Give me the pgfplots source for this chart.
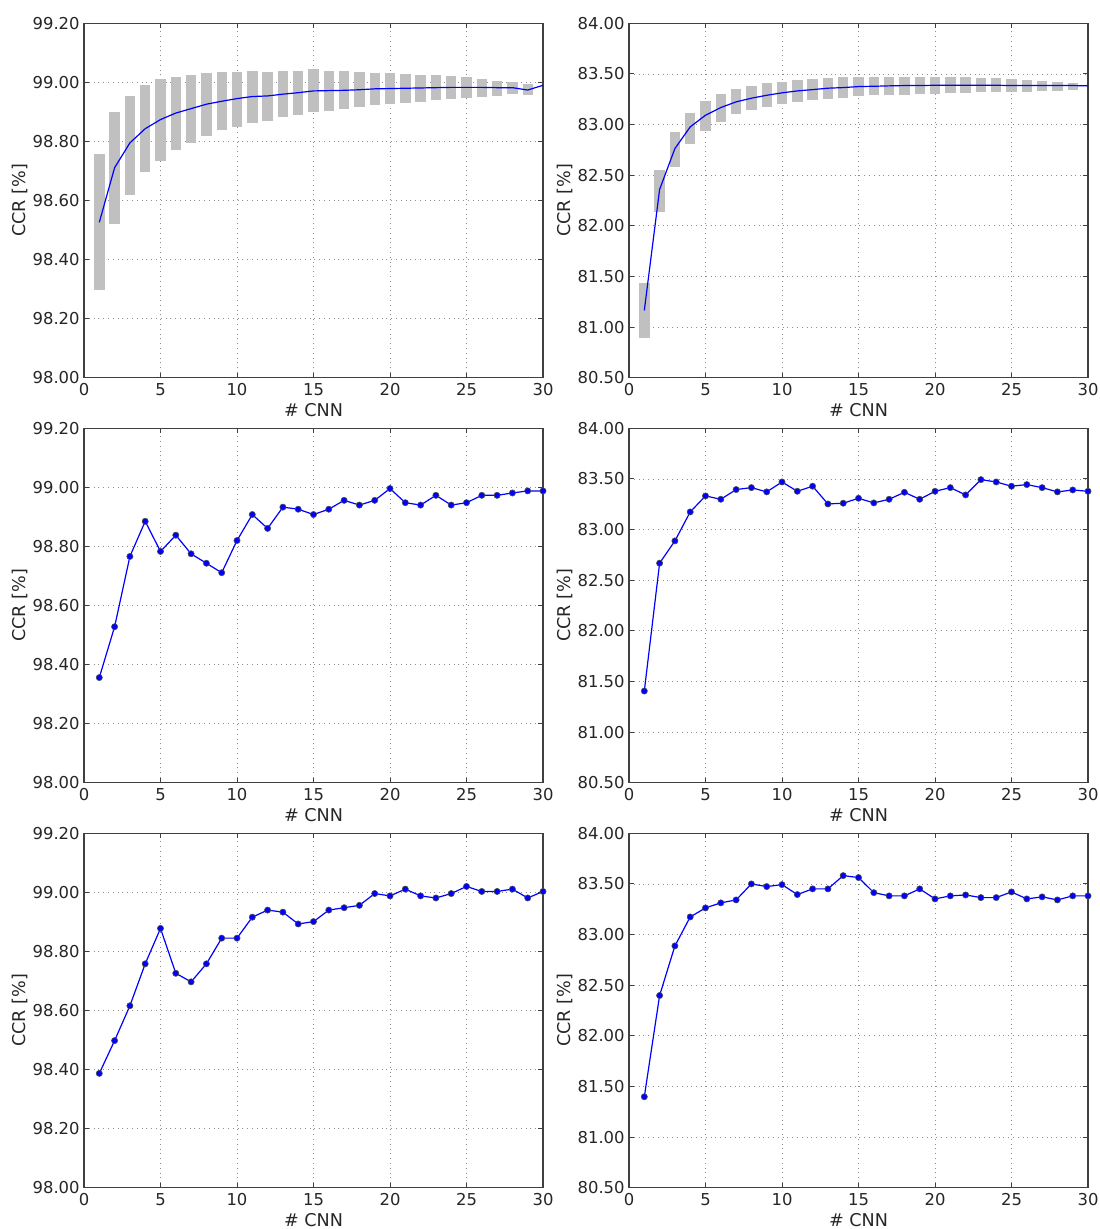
\documentclass[border=0pt]{standalone}
\usepackage{fontspec}
\setmainfont{DejaVu Sans}
\usepackage{pgfplots}
\usepackage{pgfplotstable}
\pgfplotsset{compat=1.18}
\definecolor{barg}{RGB}{192,192,192}

% top-left: x, lo, hi
\pgfplotstableread{
x lo hi
1 98.296 98.757
2 98.521 98.899
3 98.620 98.955
4 98.696 98.990
5 98.735 99.012
6 98.770 99.019
7 98.794 99.024
8 98.817 99.030
9 98.837 99.034
10 98.849 99.036
11 98.862 99.038
12 98.869 99.036
13 98.882 99.038
14 98.890 99.040
15 98.900 99.044
16 98.904 99.038
17 98.910 99.038
18 98.917 99.036
19 98.922 99.033
20 98.927 99.030
21 98.931 99.028
22 98.935 99.025
23 98.939 99.025
24 98.944 99.020
25 98.947 99.018
26 98.952 99.012
27 98.955 99.004
28 98.962 99.002
29 98.956 98.993
}\tableA
\pgfplotstableread{
x m
1 98.526
2 98.711
3 98.795
4 98.843
5 98.874
6 98.896
7 98.911
8 98.926
9 98.936
10 98.945
11 98.952
12 98.954
13 98.960
14 98.965
15 98.971
16 98.972
17 98.973
18 98.975
19 98.978
20 98.979
21 98.980
22 98.981
23 98.982
24 98.983
25 98.983
26 98.983
27 98.982
28 98.982
29 98.974
30 98.990
}\lineA

% top-right
\pgfplotstableread{
x lo hi
1 80.895 81.437
2 82.141 82.556
3 82.576 82.928
4 82.803 83.118
5 82.941 83.234
6 83.026 83.299
7 83.102 83.349
8 83.145 83.378
9 83.174 83.408
10 83.204 83.424
11 83.227 83.438
12 83.240 83.451
13 83.257 83.457
14 83.263 83.474
15 83.280 83.474
16 83.293 83.474
17 83.293 83.474
18 83.293 83.474
19 83.306 83.467
20 83.306 83.467
21 83.312 83.467
22 83.312 83.467
23 83.319 83.457
24 83.319 83.457
25 83.319 83.451
26 83.322 83.441
27 83.329 83.434
28 83.336 83.421
29 83.342 83.414
}\tableB
\pgfplotstableread{
x m
1 81.164
2 82.359
3 82.763
4 82.977
5 83.092
6 83.168
7 83.224
8 83.260
9 83.289
10 83.313
11 83.332
12 83.345
13 83.359
14 83.365
15 83.375
16 83.378
17 83.382
18 83.385
19 83.385
20 83.388
21 83.388
22 83.388
23 83.388
24 83.388
25 83.385
26 83.385
27 83.385
28 83.385
29 83.385
30 83.382
}\lineB

% middle-left
\pgfplotstableread{
x y
1 98.356
2 98.528
3 98.766
4 98.885
5 98.783
6 98.838
7 98.775
8 98.743
9 98.711
10 98.820
11 98.908
12 98.861
13 98.933
14 98.926
15 98.908
16 98.926
17 98.956
18 98.940
19 98.956
20 98.996
21 98.948
22 98.940
23 98.973
24 98.940
25 98.948
26 98.973
27 98.973
28 98.981
29 98.988
30 98.988
}\tableC

% middle-right
\pgfplotstableread{
x y
1 81.405
2 82.668
3 82.888
4 83.174
5 83.332
6 83.299
7 83.395
8 83.414
9 83.372
10 83.470
11 83.378
12 83.428
13 83.253
14 83.260
15 83.309
16 83.263
17 83.299
18 83.368
19 83.299
20 83.378
21 83.414
22 83.342
23 83.493
24 83.470
25 83.428
26 83.444
27 83.414
28 83.372
29 83.391
30 83.378
}\tableD

% bottom-left
\pgfplotstableread{
x y
1 98.387
2 98.498
3 98.616
4 98.758
5 98.878
6 98.726
7 98.697
8 98.758
9 98.845
10 98.845
11 98.916
12 98.940
13 98.933
14 98.893
15 98.901
16 98.940
17 98.948
18 98.956
19 98.996
20 98.988
21 99.011
22 98.988
23 98.981
24 98.996
25 99.020
26 99.003
27 99.003
28 99.011
29 98.981
30 99.003
}\tableE

% bottom-right
\pgfplotstableread{
x y
1 81.398
2 82.398
3 82.888
4 83.174
5 83.263
6 83.313
7 83.342
8 83.500
9 83.474
10 83.493
11 83.395
12 83.451
13 83.451
14 83.582
15 83.563
16 83.414
17 83.382
18 83.382
19 83.451
20 83.352
21 83.382
22 83.391
23 83.365
24 83.365
25 83.421
26 83.352
27 83.372
28 83.342
29 83.382
30 83.382
}\tableF

\pgfplotsset{
  panel/.style={
    scale only axis, width=229.5pt, height=177.2pt,
    xmin=0, xmax=30, xtick={0,5,10,15,20,25,30},
    anchor=south west,
    /pgf/number format/assume math mode=true,
    grid=major,
    grid style={dotted, line width=0.4pt, color=black!45},
    axis line style={line width=0.6pt, color=black!75},
    tick align=inside, major tick length=2.5pt,
    tick style={line width=0.5pt, color=black!75},
    every tick label/.append style={font=\fontsize{8.2}{9}\selectfont, inner sep=0pt, text=black!85},
    xticklabel style={yshift=-2.6pt},
    yticklabel style={xshift=-2pt, /pgf/number format/fixed, /pgf/number format/fixed zerofill, /pgf/number format/precision=2},
    xlabel={\# CNN}, ylabel={CCR [\%]},
    label style={font=\fontsize{8.8}{10}\selectfont, text=black!85},
    xlabel style={at={(axis description cs:0.5,-0.0903)}, anchor=center},
    ylabel style={at={(axis description cs:-0.1394,0.5)}, anchor=center},
  },
  leftp/.style={ymin=98, ymax=99.2, ytick={98,98.2,98.4,98.6,98.8,99,99.2}},
  rightp/.style={ymin=80.5, ymax=84, ytick={80.5,81,81.5,82,82.5,83,83.5,84}},
  boxes/.style={draw=none, mark=none, forget plot,
    error bars/.cd, y dir=plus, y explicit, error mark=none,
    error bar style={draw=barg, solid, line width=5.2pt, line cap=butt}},
  meanline/.style={blue, line width=0.6pt, mark=none},
  dotline/.style={blue, line width=0.6pt, mark=*, mark size=1.55pt,
    mark options={fill=blue, draw=black!70, line width=0.3pt}},
}

\begin{document}
\begin{tikzpicture}
% top row
\begin{axis}[panel, leftp, at={(42pt,425.65pt)}]
  \addplot[boxes] table[x=x, y=lo, y error expr=\thisrow{hi}-\thisrow{lo}] {\tableA};
  \addplot[meanline] table[x=x, y=m] {\lineA};
\end{axis}
\begin{axis}[panel, rightp, at={(314.5pt,425.65pt)}]
  \addplot[boxes] table[x=x, y=lo, y error expr=\thisrow{hi}-\thisrow{lo}] {\tableB};
  \addplot[meanline] table[x=x, y=m] {\lineB};
\end{axis}
% middle row
\begin{axis}[panel, leftp, at={(42pt,223.15pt)}]
  \addplot[dotline] table[x=x, y=y] {\tableC};
\end{axis}
\begin{axis}[panel, rightp, at={(314.5pt,223.15pt)}]
  \addplot[dotline] table[x=x, y=y] {\tableD};
\end{axis}
% bottom row
\begin{axis}[panel, leftp, at={(42pt,20.65pt)}]
  \addplot[dotline] table[x=x, y=y] {\tableE};
\end{axis}
\begin{axis}[panel, rightp, at={(314.5pt,20.65pt)}]
  \addplot[dotline] table[x=x, y=y] {\tableF};
\end{axis}
\pgfresetboundingbox
\useasboundingbox (0,0) rectangle (549.5pt,614.5pt);
\end{tikzpicture}
\end{document}
